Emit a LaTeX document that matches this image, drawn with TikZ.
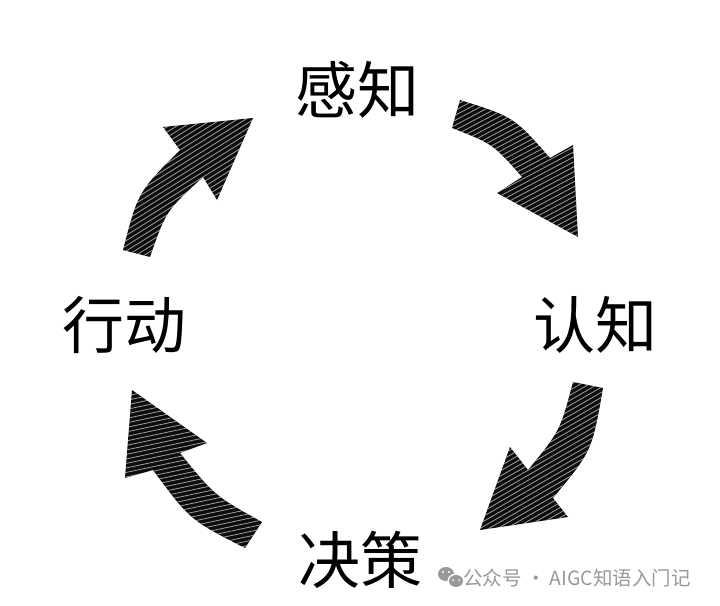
\documentclass[tikz,border=0pt]{standalone}
\usepackage{fontspec}
\newfontfamily\cjk{Noto Sans CJK SC}
\usetikzlibrary{calc}
\tikzset{
  lbl/.style={font=\cjk\fontsize{62}{62}\selectfont, text=black, inner sep=0pt},
  wmark/.style={font=\cjk\fontsize{19.5}{19.5}\selectfont, text=black!40, inner sep=0pt, anchor=west},
  arrowfill/.style={fill=black!95},
  hatch/.style={draw=white, line width=0.8pt, opacity=0.6}
}
\newcommand\hatcharrow[4]{%
  \fill[arrowfill] #1;
  \begin{scope}
    \clip #1;
    \foreach \k in {-160,-155.6,...,160} {
      \draw[hatch] ($(#2,#3)+(#4+90:\k)$) ++(#4:-200) -- ++(#4:400);
    }
  \end{scope}
}
\begin{document}
\begin{tikzpicture}[x=1pt,y=-1pt]
\path[use as bounding box, fill=white] (0,0) rectangle (720,605);

% labels
\node[lbl] (perc) at (357,90) {感知};
\node[lbl] (cogn) at (595,325) {认知};
\node[lbl] (deci) at (360,560) {决策};
\node[lbl] (act)  at (124,325) {行动};

% arrow 1: perception -> cognition
\hatcharrow{(460,100) .. controls (514,117) .. (550,158) -- (573,145) -- (578,237) -- (497,193) -- (522,177) .. controls (493,144) .. (452,128) -- cycle}{515}{170}{-28}
% arrow 2: cognition -> decision
\hatcharrow{(603,388) .. controls (592,451) .. (553,498) -- (568,517) -- (480,530) -- (510,447) -- (528,470) .. controls (560,431) .. (573,382) -- cycle}{540}{455}{-30}
% arrow 3: decision -> action
\hatcharrow{(262,522) .. controls (215,496) .. (180,453) -- (207,443) -- (132,390) -- (125,478) -- (153,470) .. controls (190,520) .. (245,548) -- cycle}{190}{465}{-12}
% arrow 4: action -> perception
\hatcharrow{(123,250) .. controls (138,192) .. (180,150) -- (163,127) -- (253,118) -- (217,200) -- (203,177) .. controls (166,211) .. (150,257) -- cycle}{185}{185}{-32}

% watermark
\fill[black!40] (446,574) ellipse [x radius=8, y radius=7];
\fill[white] (456,581) ellipse [x radius=8.5, y radius=7.5];
\fill[black!40] (456,581) ellipse [x radius=7, y radius=6];
\fill[white] (443,572) circle (1.1) (449,572) circle (1.1) (453,580) circle (1) (459,580) circle (1);
\node[wmark] (wm) at (463,578) {公众号 · AIGC知语入门记};
\end{tikzpicture}
\end{document}
